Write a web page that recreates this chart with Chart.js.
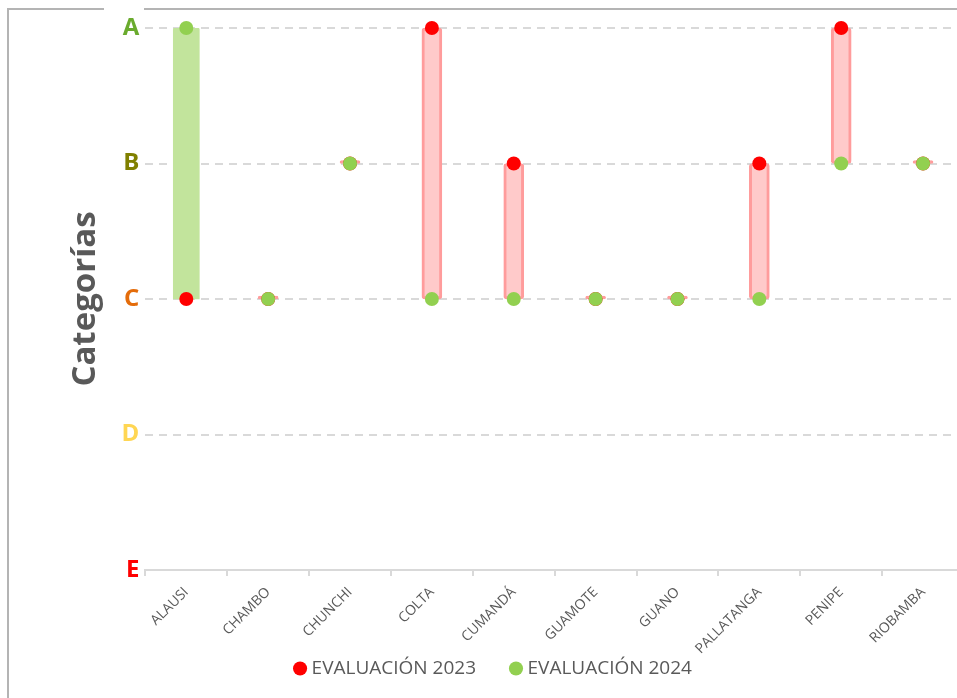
<!DOCTYPE html>
<html>
<head>
<meta charset="utf-8">
<script src="https://cdn.jsdelivr.net/npm/chart.js@4/dist/chart.umd.min.js"></script>
<style>
  html, body { margin: 0; padding: 0; background: #fff; overflow: hidden; }
  #wrap { position: relative; width: 975px; height: 698px; }
  #frame { position: absolute; left: 7px; top: 8px; width: 1000px; height: 720px;
           border-left: 2px solid #b4b4b4; border-top: 2px solid #b4b4b4; }
  #gap { position: absolute; left: 104px; top: 6px; width: 40px; height: 6px; background: #fff; }
  canvas { position: absolute; left: 0; top: 0; }
</style>
</head>
<body>
<div id="wrap">
  <div id="frame"></div>
  <div id="gap"></div>
  <canvas id="chart" width="975" height="698"></canvas>
</div>
<script>
// datos
const cantones = ['ALAUSI', 'CHAMBO', 'CHUNCHI', 'COLTA', 'CUMANDÁ', 'GUAMOTE', 'GUANO', 'PALLATANGA', 'PENIPE', 'RIOBAMBA'];
const eval2023 = ['C', 'C', 'B', 'A', 'B', 'C', 'C', 'B', 'A', 'B'];
const eval2024 = ['A', 'C', 'B', 'C', 'C', 'C', 'C', 'C', 'B', 'B'];
const niveles = ['E', 'D', 'C', 'B', 'A']; // valor 1..5
const nivelColores = { A: '#6aab2e', B: '#808000', C: '#e46c0a', D: '#ffd653', E: '#ff0000' };

const valor = (l) => niveles.indexOf(l) + 1;
const v2023 = eval2023.map(valor);
const v2024 = eval2024.map(valor);

// barras entre ambas evaluaciones: verde si mejora, roja si baja o se mantiene
const barraSube = v2023.map((a, i) => v2024[i] > a ? [a, v2024[i]] : null);
const barraBaja = v2023.map((a, i) => v2024[i] <= a ? [v2024[i], a] : null);

// las etiquetas giradas del eje x bajan hasta la leyenda: no recortarlas
const sinRecorteX = {
  id: 'sinRecorteX',
  afterLayout(chart) { chart.scales.x.bottom = chart.height; },
};

const ctx = document.getElementById('chart').getContext('2d');
new Chart(ctx, {
  data: {
    labels: cantones,
    datasets: [
      {
        type: 'bar',
        label: 'sube',
        data: barraSube,
        backgroundColor: '#c2e49c',
        borderWidth: 0,
        borderRadius: 2,
        barThickness: 26,
        grouped: false,
        order: 4,
      },
      {
        type: 'bar',
        label: 'baja',
        data: barraBaja,
        backgroundColor: '#ffcaca',
        borderColor: '#ff9c9c',
        borderWidth: 3,
        borderSkipped: false,
        borderRadius: 3,
        minBarLength: 3,
        barThickness: 20,
        grouped: false,
        order: 3,
      },
      {
        type: 'line',
        label: 'EVALUACIÓN 2023',
        data: v2023,
        showLine: false,
        clip: false,
        pointRadius: 7,
        pointHoverRadius: 7,
        pointBackgroundColor: '#ff0000',
        pointBorderWidth: 0,
        backgroundColor: '#ff0000',
        borderColor: '#ff0000',
        order: 2,
      },
      {
        type: 'line',
        label: 'EVALUACIÓN 2024',
        data: v2024,
        showLine: false,
        clip: false,
        pointRadius: 7,
        pointHoverRadius: 7,
        pointBackgroundColor: '#92d050',
        pointBorderWidth: 0,
        backgroundColor: '#92d050',
        borderColor: '#92d050',
        order: 1,
      },
    ],
  },
  options: {
    responsive: false,
    animation: false,
    layout: { padding: { left: 26, right: 11, top: 28, bottom: 10 } },
    plugins: {
      tooltip: { enabled: false },
      legend: {
        position: 'bottom',
        labels: {
          filter: (item) => item.datasetIndex >= 2,
          sort: (a, b) => a.datasetIndex - b.datasetIndex,
          usePointStyle: true,
          pointStyle: 'circle',
          boxWidth: 4,
          boxHeight: 10,
          padding: 38,
          color: '#595959',
          font: { family: 'Open Sans', size: 19 },
        },
      },
    },
    scales: {
      x: {
        offset: true,
        afterFit: (scale) => { scale.height = 51; },
        grid: { offset: true, drawOnChartArea: false, drawTicks: true, tickLength: 6, color: '#d9d9d9', lineWidth: 2 },
        border: { display: true, color: '#d9d9d9', width: 2 },
        ticks: {
          minRotation: 45,
          maxRotation: 45,
          padding: 8,
          color: '#595959',
          font: { family: 'Open Sans', size: 14 },
        },
      },
      y: {
        min: 1,
        max: 5,
        grid: { color: '#d9d9d9', lineWidth: 2, drawTicks: false },
        border: { display: false, dash: [8, 6] },
        ticks: {
          stepSize: 1,
          padding: 6,
          callback: (v) => niveles[v - 1],
          color: (c) => nivelColores[niveles[c.tick.value - 1]],
          font: { family: 'Open Sans', size: 24, weight: 'bold' },
        },
        title: {
          display: true,
          text: 'Categorías',
          color: '#595959',
          font: { family: 'Open Sans', size: 33, weight: 'bold' },
          padding: { top: 40, bottom: 10 },
        },
      },
    },
  },
  plugins: [sinRecorteX],
});
</script>
</body>
</html>
